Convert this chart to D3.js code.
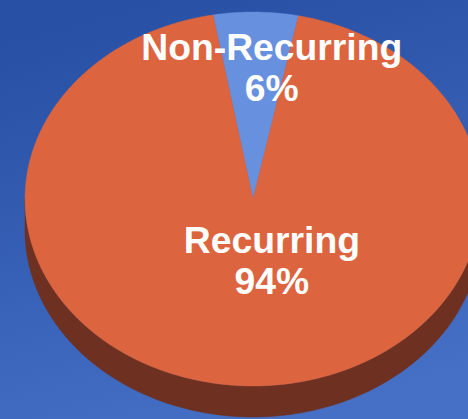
<!DOCTYPE html>
<html>
<head>
<meta charset="utf-8">
<script src="https://cdn.jsdelivr.net/npm/d3@7"></script>
<style>
html,body{margin:0;padding:0;overflow:hidden;background:#2a52a6;}
svg{display:block;}
</style>
</head>
<body>
<svg id="chart" width="468" height="419"></svg>
<script>
// ---- data ----
const categories = ["Non-Recurring", "Recurring"];
const values = [6, 94];
const percentLabels = ["6%", "94%"];

// ---- layout ----
const W = 468, H = 419;
const cx = 253, cy = 199, rx = 228, ry = 187, depth = 31;
const startDeg = -10.1;
const labelRadius = [0.636, 0.40];
const labelDx = [17, 20];
const lineGap = 41;
const topColors = ["#6790df", "#dc643f"];
const sideColors = ["#3f5f9a", "#6e3020"];

const svg = d3.select("#chart");
const defs = svg.append("defs");
const grad = defs.append("linearGradient").attr("id", "bg")
  .attr("x1", "0.35").attr("y1", "0").attr("x2", "0.65").attr("y2", "1");
grad.append("stop").attr("offset", "0%").attr("stop-color", "#2850a4");
grad.append("stop").attr("offset", "100%").attr("stop-color", "#4570c6");
svg.append("rect").attr("width", W).attr("height", H).attr("fill", "url(#bg)");

const toRad = Math.PI / 180;
const pie = d3.pie().sort(null)
  .startAngle(startDeg * toRad)
  .endAngle((startDeg + 360) * toRad);
const arcs = pie(values);

const px = a => cx + rx * Math.sin(a);
const py = (a, dy) => cy + dy - ry * Math.cos(a);
const line = d3.line();

function sample(a0, a1, dy) {
  const n = Math.max(2, Math.ceil(Math.abs(a1 - a0) / (0.5 * toRad)));
  const pts = [];
  for (let i = 0; i <= n; i++) {
    const a = a0 + (a1 - a0) * i / n;
    pts.push([px(a), py(a, dy)]);
  }
  return pts;
}

// side walls (visible front half: angles between 90° and 270°)
const gSide = svg.append("g");
arcs.forEach((d, i) => {
  let segs = [];
  for (let k = -1; k <= 1; k++) {
    const off = k * 2 * Math.PI;
    const a0 = Math.max(d.startAngle + off, 90 * toRad);
    const a1 = Math.min(d.endAngle + off, 270 * toRad);
    if (a1 > a0) segs.push([a0, a1]);
  }
  segs.forEach(([a0, a1]) => {
    const pts = sample(a0, a1, 0).concat(sample(a1, a0, depth));
    gSide.append("path").attr("d", line(pts) + "Z")
      .attr("fill", sideColors[i]).attr("stroke", sideColors[i]).attr("stroke-width", 0.5);
  });
});

// top faces
const gTop = svg.append("g");
arcs.forEach((d, i) => {
  const pts = [[cx, cy]].concat(sample(d.startAngle, d.endAngle, 0));
  gTop.append("path").attr("d", line(pts) + "Z")
    .attr("fill", topColors[i]).attr("stroke", topColors[i]).attr("stroke-width", 0.4)
    .attr("stroke-linejoin", "round");
});

// labels
const gLab = svg.append("g")
  .attr("font-family", "'Liberation Sans', Arial, sans-serif")
  .attr("font-weight", "bold").attr("font-size", 37.3)
  .attr("fill", "#ffffff").attr("text-anchor", "middle");
arcs.forEach((d, i) => {
  const mid = (d.startAngle + d.endAngle) / 2;
  const lx = cx + labelRadius[i] * rx * Math.sin(mid) + labelDx[i];
  const ly = cy - labelRadius[i] * ry * Math.cos(mid);
  const t = gLab.append("text").attr("x", lx).attr("y", ly - lineGap / 2);
  t.append("tspan").attr("x", lx).text(categories[i]);
  t.append("tspan").attr("x", lx).attr("dy", lineGap).text(percentLabels[i]);
});
</script>
</body>
</html>
